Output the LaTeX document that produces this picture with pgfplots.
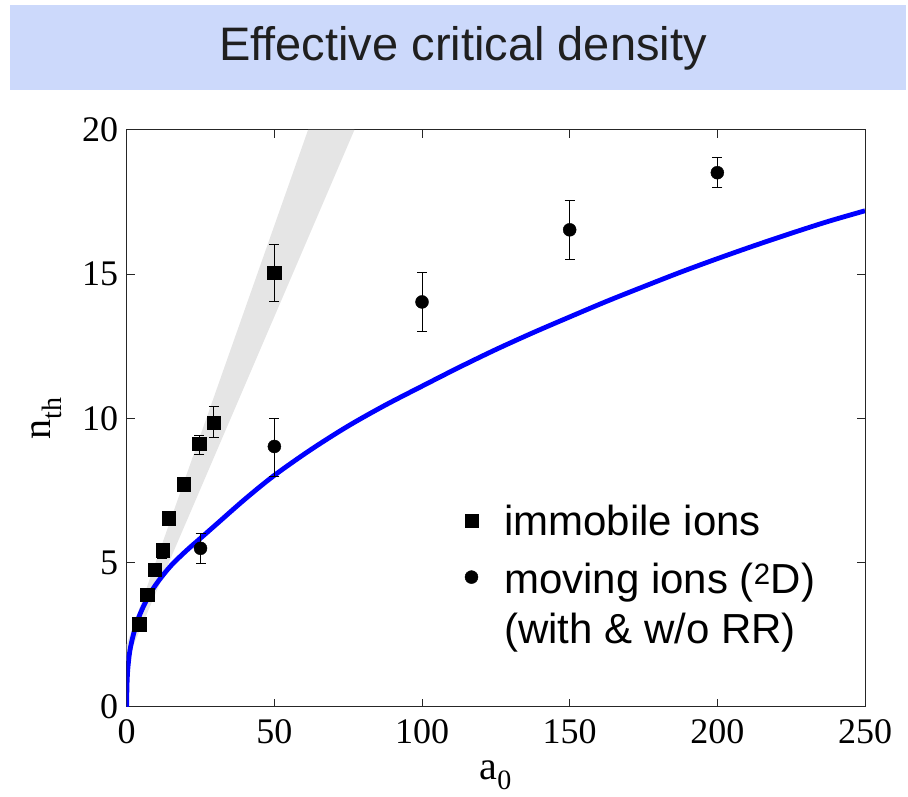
\documentclass[border=0pt]{standalone}
\usepackage{fontspec}
\setmainfont{Liberation Serif}
\newfontfamily\arial{Liberation Sans}
\usepackage{pgfplots}
\pgfplotsset{compat=1.18}
\definecolor{bandblue}{RGB}{204,217,251}
\definecolor{shade}{RGB}{229,229,229}
\pgfplotstableread{
x y ep em
4.2 2.87 0 0
7.0 3.90 0 0
9.4 4.76 0 0
12.1 5.43 0.2 0.28
14.2 6.55 0 0
19.2 7.72 0 0
24.6 9.12 0.29 0.37
29.5 9.85 0.58 0.50
50 15.06 0.96 1.02
}\immobile
\pgfplotstableread{
x y ep em
25 5.50 0.51 0.51
50 9.03 0.96 1.03
100 14.04 1.02 1.04
150 16.54 1.03 1.04
200 18.52 0.52 0.50
}\moving
\pgfplotstableread{
x y
0 0
0.05 0.5
0.15 0.9
0.4 1.35
1 1.9
2 2.4
3.5 2.95
5.5 3.45
8 3.95
11 4.4
15 4.9
20 5.4
25 5.85
30 6.3
40 7.2
50 8.03
62.5 8.93
75 9.74
87.5 10.46
100 11.12
112.5 11.77
125 12.39
137.5 12.97
150 13.52
162.5 14.06
175 14.57
187.5 15.07
200 15.54
212.5 15.99
225 16.42
237.5 16.83
250 17.2
}\curve
\begin{document}
\begin{tikzpicture}[x=1pt,y=1pt]
\useasboundingbox (0,0) rectangle (908,797);
\fill[bandblue] (10,707) rectangle (906,792);
\node[text=black!88, font=\arial\fontsize{47}{50}\selectfont] at (463,749) {Effective critical density};
\begin{axis}[
 at={(126.7pt,90pt)}, anchor=south west,
 scale only axis, width=738.3pt, height=577pt,
 xmin=0, xmax=250, ymin=0, ymax=20,
 xtick={0,50,...,250}, ytick={0,5,...,20},
 tick align=inside, major tick length=8pt,
 ticklabel style={font=\fontsize{36}{36}\selectfont},
 xticklabel style={yshift=-9pt},
 yticklabel style={xshift=-5pt},
 /pgf/number format/assume math mode=true,
 axis line style={line width=1pt, black!85},
 tick style={line width=1pt, black!85},
 xlabel={a\textsubscript{0}}, ylabel={n\textsubscript{th}},
 label style={font=\fontsize{40}{40}\selectfont},
 xlabel style={yshift=-10pt},
 ylabel style={yshift=14pt},
 legend style={at={(axis cs:113.4,7.15)}, anchor=north west, draw=none, fill=none,
   font=\arial\fontsize{42}{50}\selectfont, row sep=18pt,
   nodes={inner sep=2pt},
   /tikz/every odd column/.append style={column sep=24pt}},
 legend cell align=left,
]
\addplot[fill=shade, draw=none, forget plot] coordinates {(0,1.6) (77.1,20) (61.4,20) (0,2.17)} -- cycle;
\addplot[blue, line width=4.8pt, smooth, tension=0.5, forget plot] table {\curve};
\addplot[only marks, mark=square*, mark size=6.7pt, black,
  error bars/.cd, y dir=both, y explicit,
  error mark options={black, mark size=5pt, line width=1pt, rotate=90},
  error bar style={line width=1pt, black}]
  table[x=x, y=y, y error plus=ep, y error minus=em] {\immobile};
\addlegendentry{immobile ions}
\addplot[only marks, mark=*, mark size=6.5pt, black,
  error bars/.cd, y dir=both, y explicit,
  error mark options={black, mark size=5pt, line width=1pt, rotate=90},
  error bar style={line width=1pt, black}]
  table[x=x, y=y, y error plus=ep, y error minus=em] {\moving};
\addlegendentry{\begin{tabular}[t]{@{}l@{}}moving ions (\textsuperscript{2}D)\\(with \& w/o RR)\end{tabular}}
\end{axis}
\end{tikzpicture}
\end{document}
